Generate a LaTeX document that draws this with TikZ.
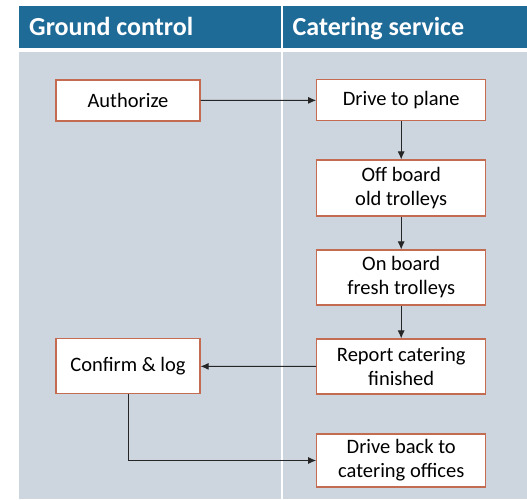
\documentclass[tikz,border=0pt]{standalone}
\usepackage{fontspec}
\setmainfont{Carlito}
\usetikzlibrary{arrows.meta}
\definecolor{hdrblue}{RGB}{31,107,152}
\definecolor{lanegray}{RGB}{205,213,223}
\definecolor{boxedge}{RGB}{196,108,82}
\tikzset{
  lanehdr/.style={fill=hdrblue, draw=none},
  lanebody/.style={fill=lanegray, draw=none},
  hdrtext/.style={text=white, font=\fontsize{26}{31}\selectfont\bfseries, anchor=base west, inner sep=0pt},
  procbox/.style={draw=boxedge, line width=1.1pt, fill=white, align=center, inner sep=0pt,
    font=\fontsize{20.5}{24}\selectfont},
  wide/.style={minimum width=169pt},
  narrow/.style={minimum width=144pt},
  conn/.style={line width=1pt, draw=black!85, -{Latex[length=8pt,width=7pt]}}
}
\begin{document}
\begin{tikzpicture}[x=1pt,y=-1pt]
\useasboundingbox (0,0) rectangle (527,499);
\fill[white] (0,0) rectangle (527,499);
% lanes
\path[lanehdr] (19,6) rectangle (281,48);
\path[lanehdr] (283,6) rectangle (527,48);
\path[lanebody] (19,52) rectangle (281,499);
\path[lanebody] (283,52) rectangle (527,499);
\node[hdrtext] (h1) at (29,35) {Ground control};
\node[hdrtext] (h2) at (292.5,35) {Catering service};
% boxes
\node[procbox, narrow, minimum height=41pt] (auth) at (128,100.5) {Authorize};
\node[procbox, wide, minimum height=41pt] (drive) at (401.2,100.3) {Drive to plane};
\node[procbox, wide, minimum height=56pt] (off) at (401.2,188) {Off board\\old trolleys};
\node[procbox, wide, minimum height=55pt] (on) at (401.2,277.5) {On board\\fresh trolleys};
\node[procbox, wide, minimum height=55pt] (report) at (401.2,366.5) {Report catering\\finished};
\node[procbox, narrow, minimum height=55pt] (confirm) at (128,366.3) {Confirm \& log};
\node[procbox, wide, minimum height=53pt] (back) at (401.2,460.5) {Drive back to\\catering offices};
% connectors
\draw[conn] (auth) -- (drive);
\draw[conn] (drive) -- (off);
\draw[conn] (off) -- (on);
\draw[conn] (on) -- (report);
\draw[conn] (report) -- (confirm);
\draw[conn] (confirm.south) |- (back.west);
\end{tikzpicture}
\end{document}
